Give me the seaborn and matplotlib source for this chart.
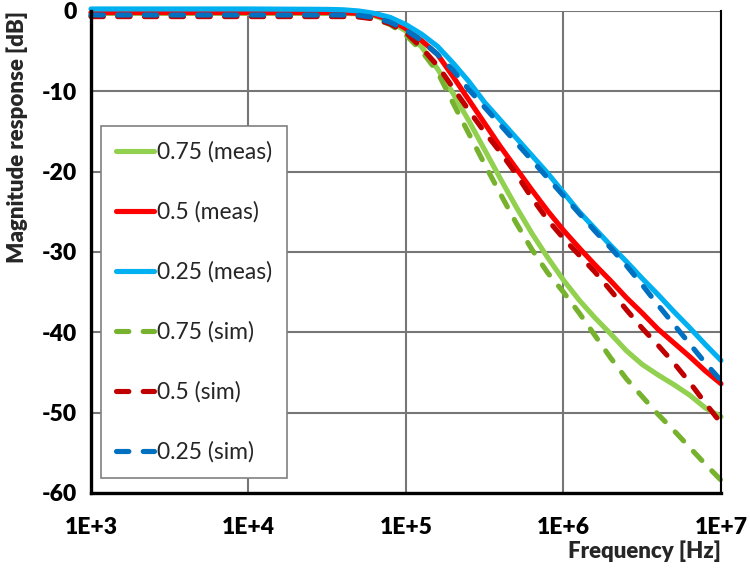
import numpy as np
import pandas as pd
import matplotlib
matplotlib.use("Agg")
import matplotlib.pyplot as plt
from matplotlib.ticker import FixedLocator, FuncFormatter, NullLocator
import seaborn as sns

# Frequency grid (Hz), as log10 exponents
log_freq = [3.0, 4.0, 4.5, 4.6, 4.7, 4.8, 4.9, 5.0, 5.1, 5.2, 5.3, 5.4, 5.5, 5.6,
            5.7, 5.8, 5.9, 6.0, 6.1, 6.2, 6.3, 6.4, 6.5, 6.6, 6.7, 6.8, 6.9, 7.0]

# Magnitude response in dB for each setting
meas_075 = [-0.3, -0.3, -0.3, -0.3, -0.35, -0.6, -1.3, -2.5, -4.5, -7.2, -10.3, -13.7,
            -17.3, -20.9, -24.4, -27.7, -30.7, -33.5, -36.0, -38.2, -40.2, -42.3,
            -44.0, -45.3, -46.5, -47.8, -49.4, -50.5]
meas_050 = [-0.2, -0.2, -0.2, -0.2, -0.3, -0.5, -1.1, -2.2, -3.7, -5.4, -8.2, -11.1,
            -14.0, -16.9, -19.6, -22.3, -24.9, -27.3, -29.5, -31.6, -33.6, -35.7,
            -37.6, -39.6, -41.3, -43.0, -44.8, -46.4]
meas_025 = [0.25, 0.25, 0.2, 0.15, 0.0, -0.3, -0.8, -1.7, -2.9, -4.4, -6.5, -8.8,
            -11.4, -13.6, -15.8, -18.0, -20.2, -22.6, -25.0, -27.1, -29.2, -31.2,
            -33.3, -35.3, -37.4, -39.4, -41.5, -43.5]
sim_075 = [-0.6, -0.6, -0.6, -0.6, -0.65, -0.9, -1.7, -3.0, -5.0, -7.6, -11.5, -15.3,
           -19.1, -22.8, -26.4, -29.7, -32.6, -35.0, -37.6, -40.4, -43.2, -45.8,
           -48.0, -50.2, -52.2, -54.3, -56.4, -58.4]
sim_050 = [-0.7, -0.7, -0.7, -0.7, -0.75, -1.0, -1.6, -2.7, -4.6, -6.8, -9.6, -12.4,
           -15.1, -17.6, -20.3, -23.3, -26.0, -28.3, -30.4, -32.5, -34.8, -37.2,
           -39.5, -41.6, -43.8, -46.2, -48.8, -51.3]
sim_025 = [-0.5, -0.5, -0.5, -0.5, -0.55, -0.8, -1.4, -2.4, -3.7, -5.4, -7.4, -9.8,
           -12.0, -14.2, -16.4, -18.6, -20.8, -23.0, -25.2, -27.4, -29.5, -31.7,
           -34.1, -36.6, -39.0, -41.4, -43.8, -46.0]

series_labels = ["0.75 (meas)", "0.5 (meas)", "0.25 (meas)",
                 "0.75 (sim)", "0.5 (sim)", "0.25 (sim)"]
series_values = [meas_075, meas_050, meas_025, sim_075, sim_050, sim_025]
series_colors = ["#92D050", "#FF0000", "#00B0F0", "#77B22F", "#C00000", "#0070C0"]
series_dashed = [False, False, False, True, True, True]

x_ticks = [1e3, 1e4, 1e5, 1e6, 1e7]
y_ticks = [0, -10, -20, -30, -40, -50, -60]

sns.set_style("white")
plt.rcParams["font.family"] = ["Lato", "DejaVu Sans"]
plt.rcParams["axes.unicode_minus"] = False

fig = plt.figure(figsize=(7.5, 5.69), dpi=100)
ax = fig.add_axes([0.1213, 0.1336, 0.84, 0.8471])

freq = [10 ** v for v in log_freq]
for label, vals, color, dashed in zip(series_labels, series_values,
                                      series_colors, series_dashed):
    df = pd.DataFrame({"Frequency": freq, "dB": vals})
    kw = dict(linestyle=(0, (2.4, 2.8)), dash_capstyle="round") if dashed else \
        dict(linestyle="-", solid_capstyle="round")
    sns.lineplot(data=df, x="Frequency", y="dB", ax=ax, color=color,
                 linewidth=3.7, label=label, sort=False, clip_on=False,
                 solid_joinstyle="round", **kw)

ax.set_xscale("log")
ax.set_xlim(1e3, 1e7)
ax.set_ylim(-60, 0)

ax.xaxis.set_major_locator(FixedLocator(x_ticks))
ax.xaxis.set_minor_locator(NullLocator())
ax.xaxis.set_major_formatter(FuncFormatter(lambda v, p: "1E+%d" % round(np.log10(v))))
ax.yaxis.set_major_locator(FixedLocator(y_ticks))
ax.yaxis.set_major_formatter(FuncFormatter(lambda v, p: "%d" % v))

ax.grid(True, which="major", color="#767676", linewidth=1.5)
ax.set_axisbelow(True)

for side in ["left", "bottom"]:
    ax.spines[side].set_color("black")
    ax.spines[side].set_linewidth(2.4)
ax.spines["right"].set_color("black")
ax.spines["right"].set_linewidth(1.5)
ax.spines["top"].set_visible(False)

ax.tick_params(axis="both", which="major", direction="out", length=6, width=2.2,
               color="black", labelsize=16.5, labelcolor="black")
ax.tick_params(axis="y", pad=4)
ax.tick_params(axis="x", pad=11)
for lbl in ax.get_xticklabels() + ax.get_yticklabels():
    lbl.set_fontweight("heavy")

ax.set_ylabel("Magnitude response [dB]", fontsize=16, fontweight="heavy", va="center")
ax.yaxis.set_label_coords(-0.1175, 0.739)
ax.set_xlabel("Frequency [Hz]", fontsize=16, fontweight="heavy", ha="right", va="center")
ax.xaxis.set_label_coords(1.0, -0.12)

leg = ax.legend(loc="upper left", bbox_to_anchor=(0.0159, 0.761), borderaxespad=0,
                fontsize=16.5, frameon=True, fancybox=False, edgecolor="#808080",
                framealpha=1, handlelength=1.66, handletextpad=0.13,
                labelspacing=1.68, borderpad=0.66)
leg.get_frame().set_linewidth(1.2)

fig.savefig("out.png", dpi=100, facecolor="white")
